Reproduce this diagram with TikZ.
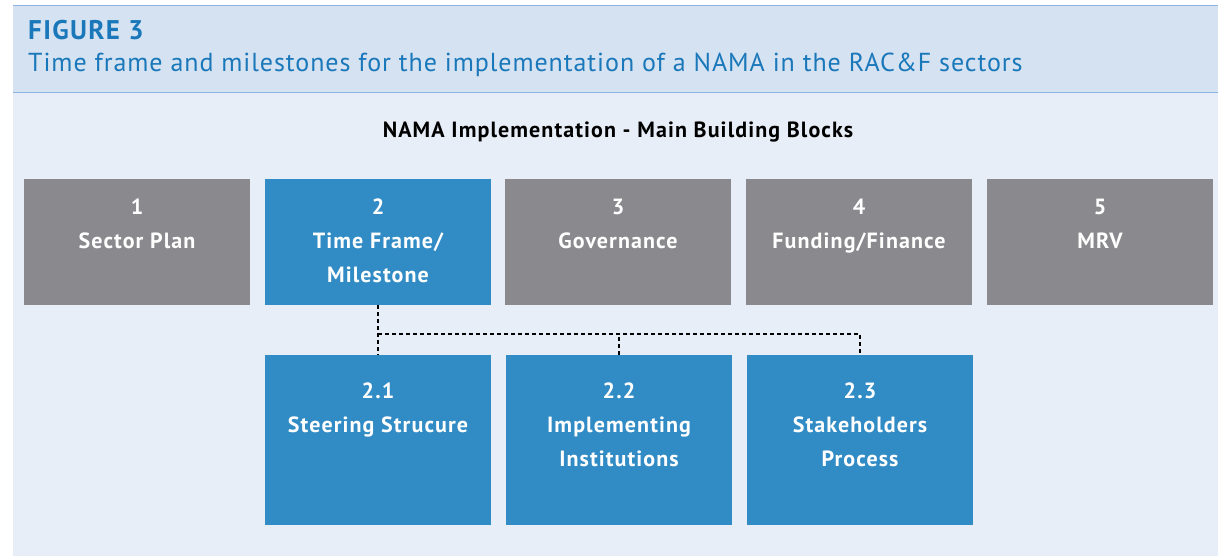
\documentclass[tikz,border=0pt]{standalone}
\usepackage{fontspec}
\setmainfont{PT Sans}[LetterSpace=3.6, BoldFeatures={LetterSpace=5}]
\definecolor{hdrband}{HTML}{D5E2F1}
\definecolor{hdrline}{HTML}{8FB4E3}
\definecolor{bodybg}{HTML}{E8EEF7}
\definecolor{boxgray}{HTML}{8A898D}
\definecolor{boxblue}{HTML}{318BC4}
\definecolor{titleblue}{HTML}{1A78BA}
\tikzset{
  blockbox/.style={draw=none, minimum width=226pt, inner sep=0pt, outer sep=0pt},
  toprow/.style={blockbox, minimum height=126pt, anchor=north west},
  subrow/.style={blockbox, minimum height=170pt, anchor=north west, fill=boxblue},
  boxtext/.style={text=white, align=center, anchor=north, inner sep=0pt, font=\fontsize{22}{34}\selectfont\bfseries},
  linkline/.style={draw=black, line width=1.2pt, dash pattern=on 4pt off 3pt},
}
\begin{document}
\begin{tikzpicture}[x=1pt,y=-1pt]
\useasboundingbox (0,0) rectangle (1218,556);
\fill[white] (0,0) rectangle (1218,556);
% header band and body
\fill[hdrband] (13,6) rectangle (1218,93);
\fill[bodybg] (13,93) rectangle (1218,556);
\draw[hdrline, line width=1pt] (13,6) -- (1218,6);
\draw[hdrline, line width=1pt] (13,93) -- (1218,93);
\node[anchor=base west, inner sep=0pt, text=titleblue, font=\fontsize{27}{30}\selectfont\bfseries] (fig) at (28,40) {FIGURE 3};
\node[anchor=base west, inner sep=0pt, text=titleblue, font=\fontsize{26}{30}\selectfont] (cap) at (28,72) {Time frame and milestones for the implementation of a NAMA in the RAC\&F sectors};
\node[anchor=base, inner sep=0pt, font=\fontsize{22}{26}\selectfont\bfseries] (head) at (618,138) {NAMA Implementation - Main Building Blocks};
% top row
\node[toprow, fill=boxgray] (b1) at (24,179) {};
\node[toprow, fill=boxblue] (b2) at (265,179) {};
\node[toprow, fill=boxgray] (b3) at (505,179) {};
\node[toprow, fill=boxgray] (b4) at (746,179) {};
\node[toprow, fill=boxgray] (b5) at (987,179) {};
\node[boxtext] (t1) at ([yshift=-19.5pt]b1.north) {1\\Sector Plan};
\node[boxtext] (t2) at ([yshift=-19.5pt]b2.north) {2\\Time Frame/\\Milestone};
\node[boxtext] (t3) at ([yshift=-19.5pt]b3.north) {3\\Governance};
\node[boxtext] (t4) at ([yshift=-19.5pt]b4.north) {4\\Funding/Finance};
\node[boxtext] (t5) at ([yshift=-19.5pt]b5.north) {5\\MRV};
% sub row
\node[subrow] (s1) at (265,355) {};
\node[subrow] (s2) at (506,355) {};
\node[subrow] (s3) at (747,355) {};
\node[boxtext] (u1) at ([yshift=-27.5pt]s1.north) {2.1\\Steering Strucure};
\node[boxtext] (u2) at ([yshift=-27.5pt]s2.north) {2.2\\Implementing\\Institutions};
\node[boxtext] (u3) at ([yshift=-27.5pt]s3.north) {2.3\\Stakeholders\\Process};
% connectors
\coordinate (bus) at (378,334);
\draw[linkline] (b2.south) -- (s1.north);
\draw[linkline] (b2.south |- bus) -| (s3.north);
\draw[linkline] (s2.north) -- (s2.north |- bus);
\end{tikzpicture}
\end{document}
